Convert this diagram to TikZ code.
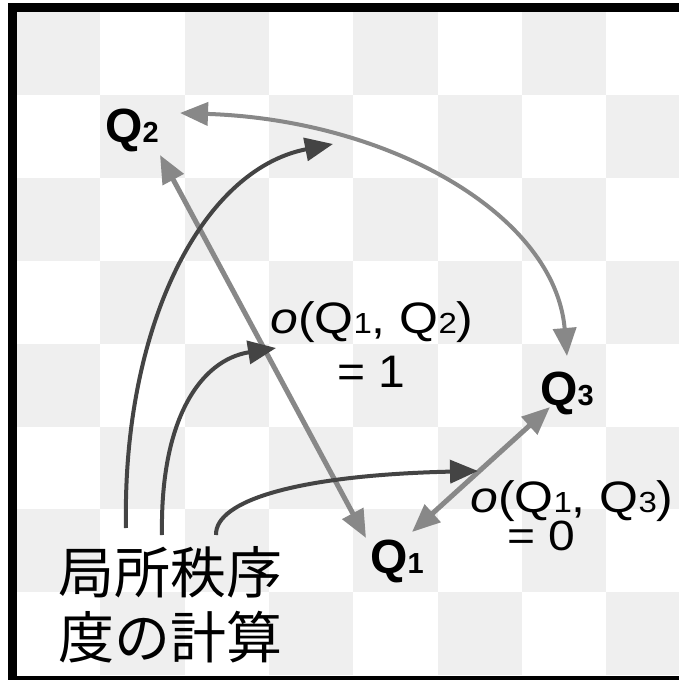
\documentclass[tikz,border=0pt]{standalone}
\usepackage{fontspec}
\usepackage{graphicx}
\setmainfont{Liberation Sans}
\newfontfamily\jpfont{Noto Sans CJK JP}
\usetikzlibrary{arrows.meta}

\definecolor{boardgray}{HTML}{EFEFEF}
\definecolor{linkgray}{HTML}{888888}
\definecolor{calcgray}{HTML}{444444}

\newcommand{\qlabel}[1]{{\bfseries\fontsize{48}{52}\selectfont Q\fontsize{29}{32}\selectfont #1}}
\newcommand{\olabel}[1]{\scalebox{1}[0.88]{\fontsize{50}{56}\selectfont\textit{o}(Q{\fontsize{33}{36}\selectfont 1}, Q{\fontsize{33}{36}\selectfont #1})}}

\tikzset{
  qnode/.style={inner sep=0pt, anchor=base west},
  link/.style={draw=linkgray, line width=5pt, {Triangle[length=28pt,width=23pt]}-{Triangle[length=28pt,width=23pt]}},
  calcarrow/.style={draw=calcgray, line width=4pt, -{Triangle[length=28pt,width=23pt]}},
}

\begin{document}
\begin{tikzpicture}[x=1pt,y=1pt,yscale=-1,xscale=1]
\useasboundingbox (0,0) rectangle (679,680);
\clip (0,0) rectangle (679,680);
\fill[white] (0,0) rectangle (679,680);

%Shape: Board
\foreach \i in {0,...,7}
  \foreach \j in {0,...,7}
  {
    \pgfmathparse{int(mod(\i+\j,2))}
    \ifnum\pgfmathresult=0
      \fill[boardgray] (16+\i*84.3,12+\j*82.9) rectangle ++(84.3,82.9);
    \fi
  }

% Text Node
\node[qnode] (q2) at (105,142) {\qlabel{2}};
% Text Node
\node[qnode] (q1) at (370,573) {\qlabel{1}};
% Text Node
\node[qnode] (q3) at (540,405) {\qlabel{3}};
% Text Node
\node[qnode] (o12) at (270,333) {\olabel{2}};
% Text Node
\node[qnode] (o12v) at (337,387) {\scalebox{1}[0.95]{\fontsize{48}{54}\selectfont = 1}};
% Text Node
\node[qnode] (o13) at (470,512) {\olabel{3}};
% Text Node
\node[qnode] (o13v) at (507,550) {\scalebox{1}[0.88]{\fontsize{48}{54}\selectfont = 0}};
% Text Node
\node[qnode, align=left, font=\jpfont\fontsize{56}{65}\selectfont] (calc) at (58,658) {局所秩序\\度の計算};

\coordinate (h1) at (333,144);
\coordinate (h2) at (276,348);
\coordinate (h3) at (478,471);

%Straight Lines
\draw[link] ([shift={(-4,-35)}]q1.base west) -- ([shift={(55,13)}]q2.base west);
%Straight Lines
\draw[link] ([shift={(42,-41)}]q1.base west) -- ([shift={(10,2)}]q3.base west);
%Curve Lines
\draw[link, line width=4pt] ([shift={(75,-29)}]q2.base west) .. controls (390,120) and (555,215) .. ([shift={(27,-49)}]q3.base west);

%Curve Lines
\draw[calcarrow] ([shift={(68,-130)}]calc.base west) .. controls (122,330) and (200,170) .. (h1);
%Curve Lines
\draw[calcarrow] ([shift={(104,-123)}]calc.base west) .. controls (160,420) and (200,360) .. (h2);
%Curve Lines
\draw[calcarrow] ([shift={(158,-123)}]calc.base west) .. controls (215,500) and (300,475) .. (h3);

%Shape: Frame
\draw[line width=9pt] (12,7.5) rectangle (720,680);

\end{tikzpicture}
\end{document}
